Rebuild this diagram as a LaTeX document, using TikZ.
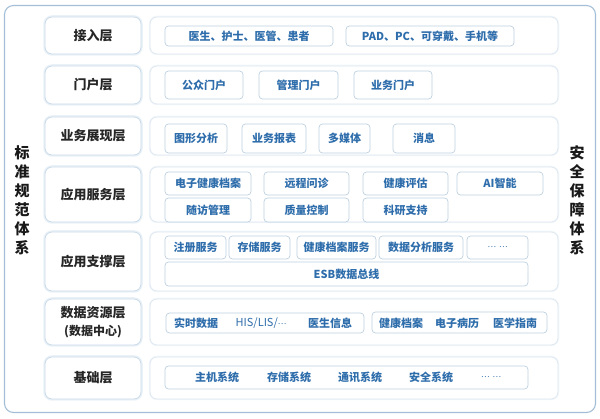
\documentclass[tikz,border=0pt]{standalone}
\usepackage{fontspec}
\setmainfont{Noto Sans CJK SC}
\definecolor{frame}{HTML}{A3BFD8}
\definecolor{lblborder}{HTML}{C9DAE9}
\definecolor{glow}{HTML}{EAF2F8}
\definecolor{rowborder}{HTML}{DFE8F0}
\definecolor{itemborder}{HTML}{BDD0E1}
\definecolor{itemtext}{HTML}{2E6DAB}
\tikzset{
  lbl/.style={preaction={draw=glow,line width=3.5pt}, draw=lblborder, line width=0.8pt,
    rounded corners=7pt, fill=white, inner sep=0pt, text=black!85,
    font=\fontsize{13}{17}\selectfont\bfseries, align=center},
  rowbox/.style={preaction={draw=glow!60,line width=2.5pt}, draw=rowborder, line width=0.8pt,
    rounded corners=7pt, fill=white, inner sep=0pt},
  item/.style={draw=itemborder, line width=0.7pt, rounded corners=3.5pt, fill=white,
    inner sep=0pt, text=itemtext, font=\fontsize{11}{13}\selectfont\bfseries},
  itxt/.style={inner sep=0pt, text=itemtext, font=\fontsize{11}{13}\selectfont\bfseries},
  side/.style={inner sep=0pt, align=center, text=black!90, font=\fontsize{15}{19}\selectfont\bfseries}
}
% [style]{name}{x1}{y1}{x2}{y2}{text}
\newcommand\bx[7][]{\node[#1, minimum width={#5-#3}, minimum height={#6-#4}] (#2) at ({(#3+#5)/2},{(#4+#6)/2}) {#7};}
\newcommand\mydots{\raisebox{0.3ex}{\fontsize{8}{10}\selectfont\mdseries …}}
\begin{document}
\begin{tikzpicture}[x=1pt,y=-1pt]
\useasboundingbox (0,0) rectangle (600,419);
\node[draw=frame, line width=1.1pt, rounded corners=9pt, minimum width=591pt, minimum height=407pt, inner sep=0pt] (frame) at (300,209) {};
\node[side] (lside) at (22,200.5) {标\\准\\规\\范\\体\\系};
\node[side] (rside) at (577,200.5) {安\\全\\保\\障\\体\\系};
% row labels
\bx[lbl]{l1}{45}{17}{141}{54}{接入层}
\bx[lbl]{l2}{45}{66}{141}{104}{门户层}
\bx[lbl]{l3}{45}{117}{141}{155}{业务展现层}
\bx[lbl]{l4}{45}{167}{141}{222}{应用服务层}
\bx[lbl]{l5}{45}{232}{141}{291}{应用支撑层}
\bx[lbl]{l6}{45}{299}{141}{345}{数据资源层\\[1pt]{\fontsize{12}{14}\selectfont (数据中心)}}
\bx[lbl]{l7}{45}{357}{141}{399}{基础层}
% row boxes
\bx[rowbox]{r1}{150}{17}{558}{54}{}
\bx[rowbox]{r2}{150}{66}{558}{104}{}
\bx[rowbox]{r3}{150}{117}{558}{155}{}
\bx[rowbox]{r4}{150}{167}{558}{222}{}
\bx[rowbox]{r5}{150}{232}{558}{291}{}
\bx[rowbox]{r6}{150}{299}{558}{345}{}
\bx[rowbox]{r7}{150}{357}{558}{399}{}
% row 1
\bx[item]{a1}{165}{26}{333}{46}{医生、护士、医管、患者}
\bx[item]{a2}{346}{26}{514}{46}{PAD、PC、可穿戴、手机等}
% row 2
\bx[item]{b1}{165}{71}{243}{99}{公众门户}
\bx[item]{b2}{259}{71}{338}{99}{管理门户}
\bx[item]{b3}{354}{71}{432}{99}{业务门户}
% row 3
\bx[item]{c1}{165}{124}{227}{153}{图形分析}
\bx[item]{c2}{242}{124}{306}{153}{业务报表}
\bx[item]{c3}{319}{124}{370}{153}{多媒体}
\bx[item]{c4}{393}{124}{455}{153}{消息}
% row 4
\bx[item]{d1}{165}{172}{251}{195}{电子健康档案}
\bx[item]{d2}{264}{172}{349}{195}{远程问诊}
\bx[item]{d3}{363}{172}{448}{195}{健康评估}
\bx[item]{d4}{457}{172}{543}{195}{AI智能}
\bx[item]{d5}{165}{198}{251}{222}{随访管理}
\bx[item]{d6}{264}{198}{349}{222}{质量控制}
\bx[item]{d7}{363}{198}{448}{222}{科研支持}
% row 5
\bx[item]{e1}{165}{236}{226}{259}{注册服务}
\bx[item]{e2}{229}{236}{290}{259}{存储服务}
\bx[item]{e3}{297}{236}{376}{259}{健康档案服务}
\bx[item]{e4}{379}{236}{463}{259}{数据分析服务}
\bx[item]{e5}{467}{236}{528}{259}{\mydots\hspace{3pt}\mydots}
\bx[item]{e6}{165}{262}{528}{286}{ESB数据总线}
% row 6
\bx[item]{f1}{166}{313}{364}{333}{}
\bx[item]{f2}{372}{312}{547}{333}{}
\node[itxt] (f1a) at (196,323) {实时数据};
\node[itxt,font=\fontsize{11}{13}\selectfont] (f1b) at (261,323) {HIS/LIS/\mydots};
\node[itxt] (f1c) at (330,323) {医生信息};
\node[itxt] (f2a) at (401,323) {健康档案};
\node[itxt] (f2b) at (457,323) {电子病历};
\node[itxt] (f2c) at (515,323) {医学指南};
% row 7
\bx[item]{g0}{165}{366}{528}{389}{}
\node[itxt] (g1) at (217,377.5) {主机系统};
\node[itxt] (g2) at (289,377.5) {存储系统};
\node[itxt] (g3) at (360,377.5) {通讯系统};
\node[itxt] (g4) at (431,377.5) {安全系统};
\node[itxt] (g5) at (491,377.5) {\mydots\hspace{3pt}\mydots};
\end{tikzpicture}
\end{document}
